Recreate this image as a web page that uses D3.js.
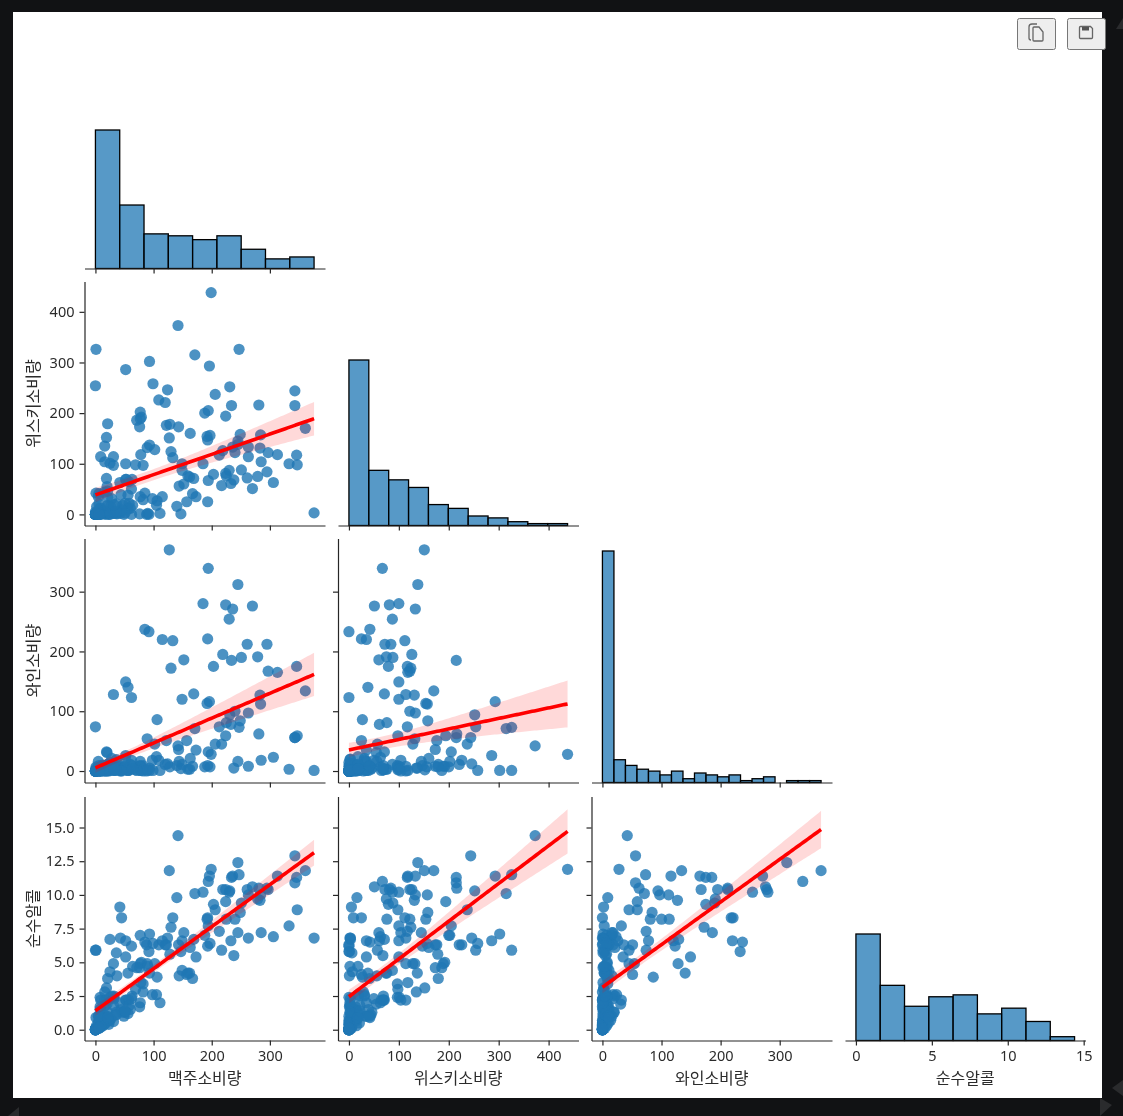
<!DOCTYPE html>
<html>
<head>
<meta charset="utf-8">
<script src="https://cdn.jsdelivr.net/npm/d3@7"></script>
<style>
html, body { margin: 0; padding: 0; background: #111214; overflow: hidden; }
svg { display: block; filter: blur(0.35px); }
text { font-family: "Noto Sans", "Noto Sans CJK KR", sans-serif; fill: #2b2b2b; }
.tick text { font-size: 14.5px; }
.tick line, .domain { stroke: #262626; stroke-width: 1.2px; }
.axistitle { font-family: "Noto Sans CJK KR", sans-serif; font-size: 16px; text-anchor: middle; }
</style>
</head>
<body>
<div id="chart"></div>
<script>

// Values per country.
const beer = [0,89,25,245,217,102,193,21,261,279,21,122,42,0,143,142,295,263,34,23,167,76,173,245,31,231,25,88,37,144,57,147,240,17,15,130,79,159,1,76,0,149,230,93,192,361,0,32,224,15,52,193,162,6,52,92,18,224,20,77,263,127,347,8,52,346,31,133,199,53,9,28,93,1,69,234,233,9,5,0,9,313,63,85,82,77,6,124,58,21,0,31,62,281,20,82,19,0,343,236,26,8,13,0,5,149,0,0,98,238,62,0,77,31,12,47,5,376,49,5,251,203,78,3,42,188,169,22,0,306,285,44,213,163,71,343,194,1,140,109,297,247,43,194,171,120,105,0,56,0,9,283,157,25,60,196,270,56,0,225,284,16,8,128,90,152,185,5,2,99,106,1,36,36,197,51,51,19,6,45,206,16,219,36,249,115,25,21,333,111,6,32,64];
const spirit = [0,132,0,138,57,128,25,179,72,75,46,176,63,0,173,373,84,114,4,0,41,173,35,145,2,252,7,0,1,56,65,1,122,2,1,124,192,76,3,1,254,87,87,137,154,170,0,3,81,44,286,147,74,4,69,0,0,194,3,35,133,151,98,0,100,117,3,112,438,69,0,31,302,326,98,215,61,114,1,0,3,118,69,42,97,202,21,246,22,34,0,97,0,216,55,29,152,0,244,133,15,11,4,0,1,100,0,0,31,68,50,0,189,114,6,18,1,3,0,6,88,79,118,2,5,200,71,16,0,63,104,39,117,160,186,215,67,42,16,226,122,326,2,205,315,221,18,0,38,5,1,131,25,3,12,293,51,11,0,76,157,104,13,178,2,60,100,35,15,258,27,1,2,21,156,3,22,71,41,9,237,135,126,6,158,35,101,18,100,2,0,19,18];
const wine = [0,54,14,312,45,45,221,11,212,191,5,51,7,0,36,42,212,8,13,0,8,8,35,16,1,94,7,0,7,16,1,4,100,1,1,172,8,3,1,9,74,11,254,5,113,134,0,1,278,3,26,9,3,1,2,233,0,59,0,1,97,370,59,1,149,175,10,218,28,2,2,21,1,1,2,185,78,0,0,0,0,165,9,237,9,16,1,12,2,1,0,6,123,62,31,0,2,0,56,271,4,1,0,0,1,120,0,0,18,5,18,0,8,128,10,5,0,1,8,0,190,175,1,1,2,7,129,1,0,23,18,1,74,21,1,56,339,7,9,18,167,73,0,32,71,11,24,0,140,0,7,127,51,2,11,116,276,1,0,81,112,0,0,7,2,186,280,16,0,1,86,4,19,5,7,20,7,32,9,0,45,5,195,1,84,220,8,11,3,1,0,4,4];
const alcohol = [0,4.9,0.7,12.4,5.9,4.9,8.3,3.8,10.4,9.7,1.3,6.3,2,0,6.3,14.4,10.5,6.8,1.1,0.4,3.8,4.6,5.4,7.2,0.6,10.3,4.3,6.3,4,4,2.2,5.8,8.2,1.8,0.4,7.6,5,4.2,0.1,1.7,5.9,4.4,10.2,4.2,8.2,11.8,0,2.3,10.4,1.1,6.6,6.2,4.2,0.2,2.2,5.8,0.5,9.5,0.7,2,10,11.8,8.9,2.4,5.4,11.3,1.8,8.3,11.9,2.2,0.2,2.5,7.1,5.9,3,11.3,6.6,2.2,0.1,0,0.2,11.4,2.5,6.5,3.4,7,0.5,6.8,1.8,1,0,2.4,6.2,10.5,1.9,2.8,3.1,0,12.9,11.4,0.8,1.5,0.3,0,0.6,6.6,0,0,2.6,5.5,2.3,0,4.9,4.9,0.5,1.3,0.1,6.8,1,0.2,9.4,9.3,3.5,0.1,9.1,7,6.7,0.7,0,6.9,7.2,1.5,7.3,6.1,4.6,10.9,11,0.9,9.8,6.3,10.4,11.5,6.8,7.7,10.1,6.3,2.6,0,4.2,0.1,0.3,9.6,4.1,6.7,1.5,11.4,10.6,1.2,0,8.2,10,2.2,1.7,5.6,4.7,7.2,10.2,1,0.3,6.4,3.9,0.1,1.3,1.1,6.4,1.3,1.4,2.2,1,8.3,8.9,2.8,10.4,5.7,8.7,6.6,2.4,0.9,7.7,2,0.1,2.5,4.7];

const names = ["맥주소비량", "위스키소비량", "와인소비량", "순수알콜"];
const series = [beer, spirit, wine, alcohol];
const binCounts = [9, 11, 19, 9];

// Tick labels per variable.
const xTicks = [[0,100,200,300], [0,100,200,300,400], [0,100,200,300], [0,5,10,15]];
const yTicks = [[], [0,100,200,300,400], [0,100,200,300], [0,2.5,5,7.5,10,12.5,15]];

// Axis limits as drawn (the last row is stretched by the upper band).
const xLims = [[-18.8,394.8], [-21.9,459.9], [-18.5,388.5], [-0.72,15.12]];
const yLims = [null, [-21.9,459.9], [-19.2,388.9], [-0.8,17.3]];

// Height reached by the tallest bar of each histogram.
const histTop = [130, 360, 551, 934];

// Panel positions.
const W = 1123, H = 1116;
const colLeft = [84.5, 338, 591.5, 845],
      rowBottom = [268.5, 525.5, 782.5, 1040.5],
      panelW = 240.5, panelH = 244;

const BLUE = "#1f77b4";

let svg = d3.select("#chart").append("svg")
	.attr("width", W)
	.attr("height", H);

// Window decoration in the dark margin.
svg.append("g").attr("fill", "#2a2b2d")
	.selectAll("polygon")
	.data(["1123,18 1116,29 1123,29", "8,1116 19,1107 19,1116", "1100,1098 1112,1105 1100,1116", "1112,1088 1123,1080 1123,1096"])
	.join("polygon")
	.attr("points", d => d);

// Figure background.
svg.append("rect")
	.attr("x", 13).attr("y", 12)
	.attr("width", 1089).attr("height", 1086)
	.attr("fill", "#fff");

// Toolbar buttons.
let buttons = svg.append("g");
[1017.5, 1067.5].forEach(x => {
	buttons.append("rect")
		.attr("x", x).attr("y", 18.5)
		.attr("width", 38).attr("height", 31).attr("rx", 2)
		.attr("fill", "#eee").attr("stroke", "#777").attr("stroke-width", 1);
});
buttons.append("path")
	.attr("d", "M1031,40 q-2,0 -2,-2 v-11 q0,-3 3,-3 h5 M1033,28 q0,-1 1,-1 h5 l4,5 v8 q0,1 -1,1 h-8 q-1,0 -1,-1 z")
	.attr("fill", "none").attr("stroke", "#666").attr("stroke-width", 1.3);
buttons.append("path")
	.attr("d", "M1080.5,26.5 h10 l2,2 v9 q0,1 -1,1 h-11 q-1,0 -1,-1 v-10 q0,-1 1,-1 z")
	.attr("fill", "none").attr("stroke", "#666").attr("stroke-width", 1.3);
buttons.append("rect")
	.attr("x", 1082).attr("y", 27).attr("width", 7).attr("height", 3.5)
	.attr("fill", "#555");

// Ordinary least squares with a robust band, which tracks the bootstrap interval seaborn draws.
function regression(xs, ys) {
	const n = xs.length,
	      mx = d3.mean(xs), my = d3.mean(ys),
	      sxx = d3.sum(xs, v => (v - mx) * (v - mx)),
	      sxy = d3.sum(xs, (v, i) => (v - mx) * (ys[i] - my)),
	      b = sxy / sxx,
	      a = my - b * mx;
	let vbb = 0, vab = 0, vaa = 0;
	xs.forEach((v, i) => {
		const e = ys[i] - a - b * v,
		      wb = (v - mx) / sxx,
		      wa = 1 / n - mx * wb;
		vbb += wb * wb * e * e;
		vab += wa * wb * e * e;
		vaa += wa * wa * e * e;
	});
	const [x0, x1] = d3.extent(xs);
	return d3.range(100).map(i => {
		const x = x0 + (x1 - x0) * i / 99,
		      se = Math.sqrt(vaa + 2 * x * vab + x * x * vbb),
		      y = a + b * x;
		return { x: x, y: y, lo: y - 1.96 * se, hi: y + 1.96 * se };
	});
}

// Bottom axis used by every panel; labels only on the last row.
function drawXAxis(g, x, col, row) {
	const axis = d3.axisBottom(x)
		.tickValues(xTicks[col])
		.tickFormat(row == 3 ? d3.format("d") : "")
		.tickSizeInner(5).tickSizeOuter(0).tickPadding(5);
	g.append("g")
		.attr("transform", "translate(0," + rowBottom[row] + ")")
		.call(axis);
}

for (let row = 0; row < 4; row++) {
	for (let col = 0; col <= row; col++) {

		let g = svg.append("g");
		const x = d3.scaleLinear().domain(xLims[col]).range([colLeft[col], colLeft[col] + panelW]);

		if (row == col) {
			// Histogram on the diagonal.
			const [lo, hi] = d3.extent(series[col]);
			const edges = d3.range(1, binCounts[col]).map(i => lo + (hi - lo) * i / binCounts[col]);
			const bins = d3.bin().domain([lo, hi]).thresholds(edges)(series[col]);
			const h = d3.scaleLinear()
				.domain([0, d3.max(bins, d => d.length)])
				.range([rowBottom[row], histTop[row]]);

			g.selectAll("rect")
				.data(bins)
				.join("rect")
				.attr("x", d => x(d.x0))
				.attr("y", d => h(d.length))
				.attr("width", d => x(d.x1) - x(d.x0))
				.attr("height", d => h(0) - h(d.length))
				.attr("fill", BLUE)
				.attr("fill-opacity", 0.75)
				.attr("stroke", "#000")
				.attr("stroke-width", 1.3);
		} else {
			// Scatter with regression line.
			const y = d3.scaleLinear().domain(yLims[row]).range([rowBottom[row], rowBottom[row] - panelH]);
			const xs = series[col], ys = series[row];

			g.append("g")
				.selectAll("circle")
				.data(xs)
				.join("circle")
				.attr("cx", d => x(d))
				.attr("cy", (d, i) => y(ys[i]))
				.attr("r", 5.6)
				.attr("fill", BLUE)
				.attr("fill-opacity", 0.8);

			const fit = regression(xs, ys);
			g.append("path")
				.datum(fit)
				.attr("fill", "#f00")
				.attr("fill-opacity", 0.15)
				.attr("d", d3.area().x(d => x(d.x)).y0(d => y(d.lo)).y1(d => y(d.hi)));
			g.append("path")
				.datum(fit)
				.attr("fill", "none")
				.attr("stroke", "#f00")
				.attr("stroke-width", 3.6)
				.attr("d", d3.line().x(d => x(d.x)).y(d => y(d.y)));

			// Left axis, labelled only in the first column.
			const yAxis = d3.axisLeft(y)
				.tickValues(yTicks[row])
				.tickFormat(col == 0 ? (row == 3 ? d3.format(".1f") : d3.format("d")) : "")
				.tickSizeInner(5).tickSizeOuter(0).tickPadding(5);
			g.append("g")
				.attr("transform", "translate(" + colLeft[col] + ",0)")
				.call(yAxis);

			if (col == 0) {
				g.append("text")
					.attr("class", "axistitle")
					.attr("transform", "translate(38.5," + (rowBottom[row] - panelH / 2) + ") rotate(-90)")
					.text(names[row]);
			}
		}

		drawXAxis(g, x, col, row);

		if (row == 3) {
			g.append("text")
				.attr("class", "axistitle")
				.attr("x", colLeft[col] + panelW / 2)
				.attr("y", 1083.5)
				.text(names[col]);
		}
	}
}

// d3 axes set their own font; use the page font instead.
svg.selectAll(".tick text").attr("font-family", null).attr("font-size", null).attr("fill", null);
svg.selectAll("g[font-family]").attr("font-family", null).attr("font-size", null);

</script>
</body>
</html>
